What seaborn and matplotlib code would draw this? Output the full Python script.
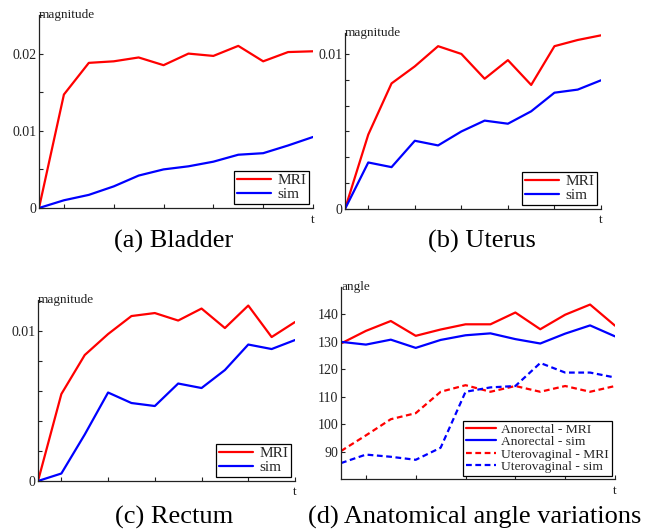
import numpy as np
import pandas as pd
import seaborn as sns
from matplotlib import pyplot as plt
from matplotlib import ticker as tkr

sns.set_theme(style="ticks")
plt.rcParams['font.family'] = ['Liberation Serif', 'DejaVu Serif']
plt.rcParams['font.size'] = 9.5

# time steps
t = list(range(12))

# (a) bladder
bladder_mri = [0, 0.0147, 0.0188, 0.0190, 0.0195, 0.0185, 0.0200, 0.0197, 0.0210, 0.0190, 0.0202, 0.0203]
bladder_sim = [0, 0.0010, 0.0017, 0.0028, 0.0042, 0.0050, 0.0054, 0.0060, 0.0069, 0.0071, 0.0081, 0.0092]
# (b) uterus
uterus_mri = [0, 0.0048, 0.0081, 0.0092, 0.0105, 0.0100, 0.0084, 0.0096, 0.0080, 0.0105, 0.0109, 0.0112]
uterus_sim = [0, 0.0030, 0.0027, 0.0044, 0.0041, 0.0050, 0.0057, 0.0055, 0.0063, 0.0075, 0.0077, 0.0083]
# (c) rectum
rectum_mri = [0, 0.0058, 0.0084, 0.0098, 0.0110, 0.0112, 0.0107, 0.0115, 0.0102, 0.0117, 0.0096, 0.0106]
rectum_sim = [0, 0.0005, 0.0031, 0.0059, 0.0052, 0.0050, 0.0065, 0.0062, 0.0074, 0.0091, 0.0088, 0.0094]
# (d) angles
anorectal_mri = [129.4, 134.0, 137.6, 132.2, 134.5, 136.4, 136.4, 140.7, 134.6, 139.9, 143.6, 135.9]
anorectal_sim = [130.0, 129.0, 130.8, 127.8, 130.7, 132.4, 133.1, 131.0, 129.4, 133.0, 136.0, 132.0]
utero_mri = [90.2, 95.9, 101.8, 104.0, 111.8, 114.2, 111.8, 113.9, 111.8, 113.9, 111.8, 113.9]
utero_sim = [85.8, 88.9, 88.1, 87.0, 91.4, 111.8, 113.4, 113.9, 122.3, 118.8, 118.8, 117.0]

RED, BLUE = '#ff0000', '#0000ff'
LW = 1.6

fig = plt.figure(figsize=(6.56, 5.3), dpi=100)

# axes boxes in pixels (left, top, right, bottom) -> figure fractions
W, H = 656, 530
def box(l, tp, r, b):
    return [l / W, 1 - b / H, (r - l) / W, (b - tp) / H]

ax_a = fig.add_axes(box(39, 15, 313, 208))
ax_b = fig.add_axes(box(345, 33, 601, 209))
ax_c = fig.add_axes(box(38, 300, 295, 481))
ax_d = fig.add_axes(box(341, 287, 615, 479))


def style_axes(ax, ylabel):
    sns.despine(ax=ax)
    ax.set_xlim(0, 11)
    ax.xaxis.set_major_locator(tkr.FixedLocator([1, 3, 5, 7, 9, 11]))
    ax.xaxis.set_major_formatter(tkr.NullFormatter())
    ax.tick_params(direction='in', length=3, width=0.8, color='#222222',
                   labelsize=10, pad=2, labelcolor='#222222')
    for s in ('left', 'bottom'):
        ax.spines[s].set_linewidth(0.9)
        ax.spines[s].set_color('#222222')
    ax.set_xlabel('')
    ax.set_ylabel('')
    ax.text(0, 1, ylabel, transform=ax.transAxes, ha='left', va='center',
            fontsize=9.5, color='#222222')
    ax.text(1, -0.03, 't', transform=ax.transAxes, ha='center', va='top',
            fontsize=9.5, color='#222222')


def add_legend(ax, size):
    leg = ax.legend(loc='lower right', borderaxespad=0.25, fancybox=False,
                    edgecolor='black', framealpha=1, fontsize=size,
                    handlelength=2.2, labelspacing=0.0, borderpad=0.2,
                    handletextpad=0.4)
    leg.get_frame().set_linewidth(0.9)


def magnitude_panel(ax, mri, sim, ymax, step, labelled):
    df = pd.DataFrame({'t': t, 'MRI': mri, 'sim': sim})
    sns.lineplot(data=df, x='t', y='MRI', color=RED, lw=LW, label='MRI', ax=ax)
    sns.lineplot(data=df, x='t', y='sim', color=BLUE, lw=LW, label='sim', ax=ax)
    ax.set_ylim(0, ymax)
    ticks = np.arange(0, ymax + 1e-9, step)
    ax.yaxis.set_major_locator(tkr.FixedLocator(ticks))
    ax.yaxis.set_major_formatter(tkr.FuncFormatter(
        lambda v, p: labelled.get(round(v, 5), '')))
    style_axes(ax, 'magnitude')
    add_legend(ax, 11)


magnitude_panel(ax_a, bladder_mri, bladder_sim, 0.025, 0.005,
                {0.0: '0', 0.01: '0.01', 0.02: '0.02'})
magnitude_panel(ax_b, uterus_mri, uterus_sim, 0.01135, 0.01 / 6,
                {0.0: '0', 0.01: '0.01'})
magnitude_panel(ax_c, rectum_mri, rectum_sim, 0.01207, 0.002,
                {0.0: '0', 0.01: '0.01'})

# (d) angles
df_d = pd.DataFrame({'t': t, 'am': anorectal_mri, 'asim': anorectal_sim,
                     'um': utero_mri, 'usim': utero_sim})
sns.lineplot(data=df_d, x='t', y='am', color=RED, lw=LW, label='Anorectal - MRI', ax=ax_d)
sns.lineplot(data=df_d, x='t', y='asim', color=BLUE, lw=LW, label='Anorectal - sim', ax=ax_d)
sns.lineplot(data=df_d, x='t', y='um', color=RED, lw=LW, label='Uterovaginal - MRI', ax=ax_d)
sns.lineplot(data=df_d, x='t', y='usim', color=BLUE, lw=LW, label='Uterovaginal - sim', ax=ax_d)
for ln in ax_d.lines[2:4]:
    ln.set_dashes((2.6, 1.6))
ax_d.set_ylim(80, 150)
ax_d.yaxis.set_major_locator(tkr.FixedLocator([90, 100, 110, 120, 130, 140]))
style_axes(ax_d, 'angle')
add_legend(ax_d, 9.7)

# captions
for x, y, s in [(174, 241, '(a) Bladder'), (482, 241, '(b) Uterus'),
                (174, 517, '(c) Rectum'), (475, 517, '(d) Anatomical angle variations')]:
    fig.text(x / W, 1 - y / H, s, ha='center', va='center', fontsize=19, color='black')

fig.savefig('out.png', dpi=100)
